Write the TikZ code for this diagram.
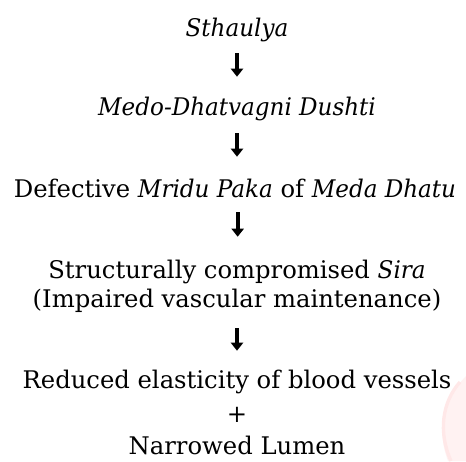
\documentclass[tikz,border=0pt]{standalone}
\usepackage{fontspec}
\setmainfont{DejaVu Serif}[ItalicFeatures={FakeStretch=0.95}]
\usetikzlibrary{arrows.meta}
\begin{document}
\begin{tikzpicture}[x=0.75pt, y=-0.75pt,
  every node/.style={font=\fontsize{18.2pt}{22pt}\selectfont},
  txt/.style={inner sep=0pt, anchor=base, text height=13.5pt, text depth=0pt},
  arr/.style={line width=2.8pt, -{Triangle[width=9pt,length=6pt]}}]
  \useasboundingbox (0,0) rectangle (466,461);
  % faint emblem behind the lower right corner
  \fill[red!5] (466,376) .. controls (444,398) and (436,430) .. (448,461) -- (466,461) -- cycle;
  \draw[red!9, line width=2.5pt] (460,382) .. controls (442,402) and (438,432) .. (451,461);
  \node[txt] (sth) at (237,36) {\itshape Sthaulya};
  \node[txt] (medo) at (237,115) {\itshape Medo-Dhatvagni Dushti};
  \node[txt] (paka) at (235,197) {Defective \textit{Mridu Paka} of \textit{Meda Dhatu}};
  \node[txt] (sira) at (237,278) {Structurally compromised \textit{Sira}};
  \node[txt] (vasc) at (237,307) {(Impaired vascular maintenance)};
  \node[txt] (elas) at (237,388) {Reduced elasticity of blood vessels};
  \node[txt] (plus) at (237,422) {+};
  \node[txt] (lum) at (237,454) {Narrowed Lumen};
  \draw[arr, shorten <=12.75pt, shorten >=15pt] (sth.south) -- (medo.north);
  \draw[arr, shorten <=13.5pt, shorten >=16.5pt] (medo.south) -- (medo.south |- paka.north);
  \draw[arr, shorten <=11.25pt, shorten >=17.25pt] ([xshift=2]paka.south) -- ([xshift=2]paka.south |- sira.north);
  \draw[arr, shorten <=15.75pt, shorten >=14.25pt] (vasc.south) -- (elas.north);
\end{tikzpicture}
\end{document}
